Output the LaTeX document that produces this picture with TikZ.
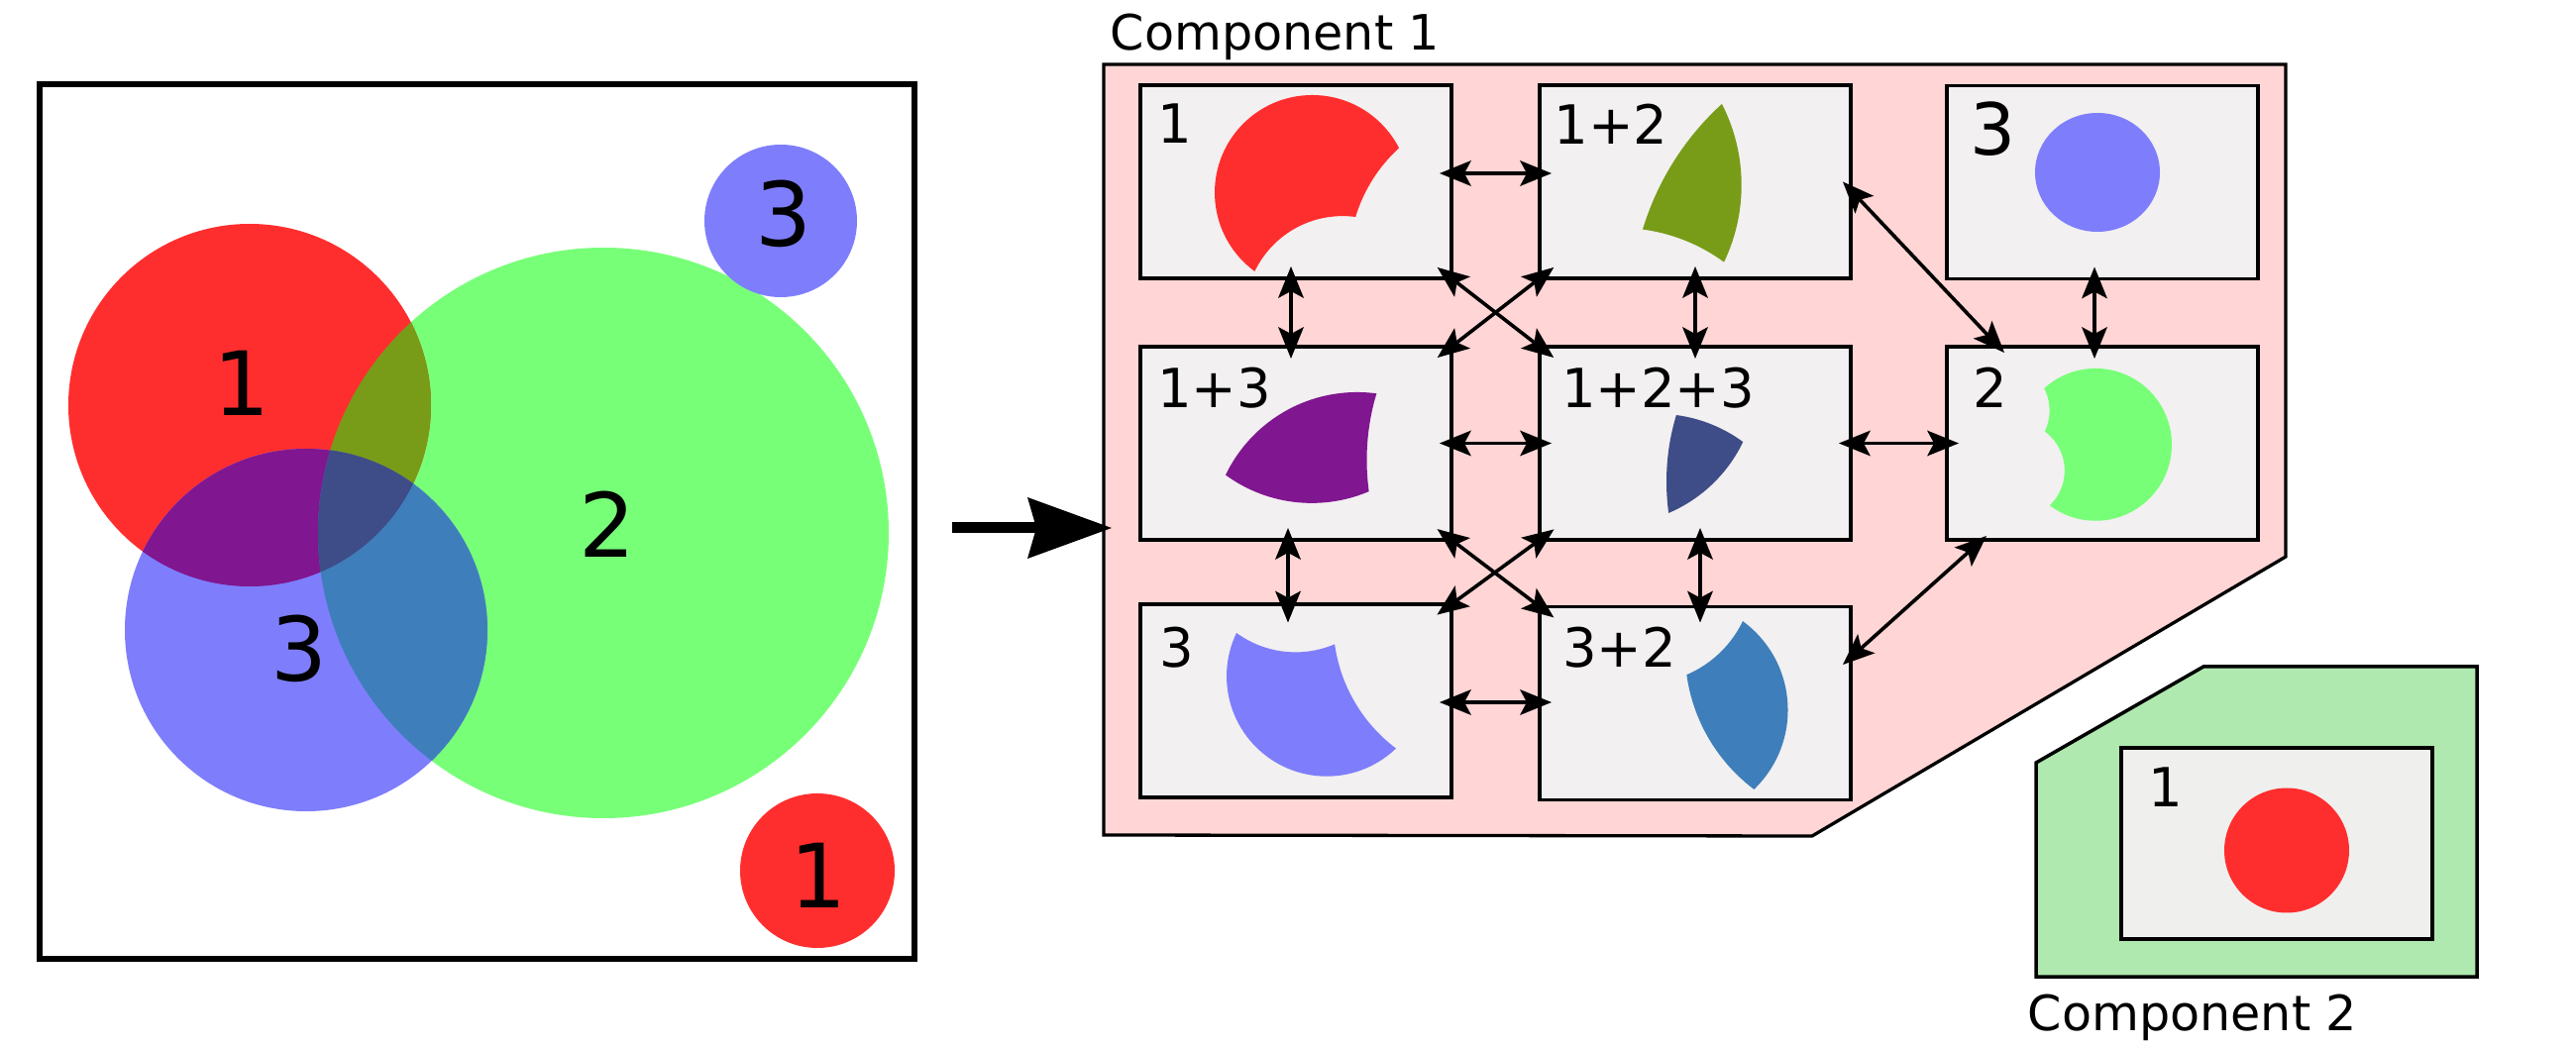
\documentclass[tikz,border=0pt]{standalone}
\usepackage{fontspec}
\setmainfont{DejaVu Sans}
\usetikzlibrary{positioning,arrows.meta}

\definecolor{setred}{RGB}{255,46,46}
\definecolor{setgreen}{RGB}{120,255,120}
\definecolor{setblue}{RGB}{126,126,252}
\definecolor{setolive}{RGB}{120,156,24}
\definecolor{setpurple}{RGB}{128,22,144}
\definecolor{setnavy}{RGB}{62,76,135}
\definecolor{setsteel}{RGB}{62,127,187}
\definecolor{boxgray}{RGB}{242,240,240}
\definecolor{boxgrayb}{RGB}{239,240,238}
\definecolor{comppink}{RGB}{255,213,213}
\definecolor{compgreen}{RGB}{175,233,175}

\newcommand{\cirA}{(252,409) circle [radius=183]}
\newcommand{\cirB}{(609,538) circle [radius=288]}
\newcommand{\cirC}{(309,636) circle [radius=183]}
\newcommand{\wholeplane}{(-3000,-3000) rectangle (6000,6000)}
\newcommand{\cutaway}[1]{\clip \wholeplane #1;}

\tikzset{
  setbox/.style={draw,line width=0.38mm,fill=boxgray,minimum width=31.4mm,minimum height=19.5mm,inner sep=0pt,outer sep=0pt},
  setlbl/.style={inner sep=0pt,outer sep=0pt,font=\fontsize{15.5}{18}\selectfont},
  vennlbl/.style={inner sep=0pt,font=\fontsize{25.5}{30}\selectfont},
  complbl/.style={inner sep=0pt,anchor=base west,font=\fontsize{14}{17}\selectfont},
  piece/.style={even odd rule},
  link/.style={line width=0.36mm,{Stealth[length=3.2mm,width=2.6mm,inset=0.7mm,line width=0pt]}-{Stealth[length=3.2mm,width=2.6mm,inset=0.7mm,line width=0pt]},shorten <=-1.2mm,shorten >=-1.2mm},
}

\begin{document}
\begin{tikzpicture}[x=0.1mm,y=-0.1mm]
\useasboundingbox (0,0) rectangle (2600,1059);
% the three sets
\node[draw,line width=0.6mm,minimum width=88.3mm,minimum height=88.3mm,inner sep=0pt,outer sep=0pt] (venn) at (481,527) {};
\fill[setgreen] \cirB; \fill[setred] \cirA; \fill[setblue] \cirC;
\begin{scope} \clip \cirA; \fill[setolive] \cirB; \fill[setpurple] \cirC; \end{scope}
\begin{scope} \clip \cirB; \fill[setsteel] \cirC; \clip \cirA; \fill[setnavy] \cirC; \end{scope}
\fill[setblue] (788,223) circle [radius=77];
\fill[setred] (825,879) circle [radius=78];
\node[vennlbl] (v1) at (244,387) {1};
\node[vennlbl] (v2) at (613,529) {2};
\node[vennlbl] (v3) at (302,655) {3};
\node[vennlbl] (v3s) at (791,216) {3};
\node[vennlbl] (v1s) at (826,884) {1};

% component 1
\filldraw[fill=comppink,line width=0.33mm] (1114,65) -- (2307,65) -- (2307,562) -- (1829,844) -- (1114,843) -- cycle;
\node[complbl] (comp1) at (1120,51) {Component 1};
\coordinate (arrS) at (961,533); \coordinate (arrE) at (1122,533);
\draw[line width=1.1mm,-{Stealth[length=8.5mm,width=6.2mm,inset=0.9mm,line width=0pt]}] (arrS) -- (arrE);

\node[setbox] (n1) at (1308,183.5) {};
\node[setbox] (n12) at (1711,183.5) {};
\node[setbox] (n3b) at (2122,184) {};
\node[setbox] (n13) at (1308,447.5) {};
\node[setbox] (n123) at (1711,447.5) {};
\node[setbox] (n2) at (2122,447.5) {};
\node[setbox] (n3) at (1308,707.5) {};
\node[setbox] (n32) at (1711,710) {};

% pieces of the sets
\begin{scope}[piece,shift={(1188.9,-25.6)},scale=0.538] \clip \cirA; \cutaway{\cirB} \cutaway{\cirC} \fill[setred] \wholeplane; \end{scope}
\begin{scope}[piece,shift={(1331.4,-213.9)},scale=0.98] \clip \cirA; \clip \cirB; \cutaway{\cirC} \fill[setolive] \wholeplane; \end{scope}
\begin{scope}[piece,shift={(1121.1,31.3)},scale=0.805] \clip \cirA; \clip \cirC; \cutaway{\cirB} \fill[setpurple] \wholeplane; \end{scope}
\begin{scope}[piece,shift={(1423.6,53.1)},scale=0.805] \clip \cirA; \clip \cirB; \clip \cirC; \fill[setnavy] \wholeplane; \end{scope}
\begin{scope}[piece,shift={(1168.5,331.6)},scale=0.552] \clip \cirC; \cutaway{\cirA} \cutaway{\cirB} \fill[setblue] \wholeplane; \end{scope}
\begin{scope}[piece,shift={(1505.9,330.7)},scale=0.607] \clip \cirB; \clip \cirC; \cutaway{\cirA} \fill[setsteel] \wholeplane; \end{scope}
\begin{scope}[piece,shift={(1952.5,305.2)},scale=0.267] \clip \cirB; \cutaway{\cirA} \cutaway{\cirC} \fill[setgreen] \wholeplane; \end{scope}
\fill[setblue] (2117,174) circle [x radius=63,y radius=60];

\node[setlbl,below right=1.9mm and 1.7mm of n1.north west] (t1) {1};
\node[setlbl,below right=1.9mm and 1.45mm of n12.north west] (t12) {1+2};
\node[setlbl,font=\fontsize{20.6}{24}\selectfont,below right=1.6mm and 2.3mm of n3b.north west] (t3b) {3};
\node[setlbl,below right=2.1mm and 1.7mm of n13.north west] (t13) {1+3};
\node[setlbl,below right=2.1mm and 2.2mm of n123.north west] (t123) {1+2+3};
\node[setlbl,below right=2.1mm and 2.6mm of n2.north west] (t2) {2};
\node[setlbl,below right=2.35mm and 1.9mm of n3.north west] (t3) {3};
\node[setlbl,below right=2.1mm and 2.3mm of n32.north west] (t32) {3+2};

% moves between the pieces
\draw[link] ([yshift=0.85mm]n1.east) -- ([yshift=0.85mm]n12.west);
\draw[link] ([xshift=-0.5mm]n1.south) -- ([xshift=-0.5mm]n13.north);
\draw[link,shorten <=-1.8mm,shorten >=-1.8mm] (n1.south east) -- (n123.north west);
\draw[link,shorten <=-1.8mm,shorten >=-1.8mm] (n12.south west) -- (n13.north east);
\draw[link] (n12.south) -- (n123.north);
\draw[link,shorten <=0mm,shorten >=0mm] ([xshift=-0.8mm]n12.east) -- ([xshift=5.8mm,yshift=-0.6mm]n2.north west);
\draw[link] ([xshift=-0.8mm]n3b.south) -- ([xshift=-0.8mm]n2.north);
\draw[link] (n13.east) -- (n123.west);
\draw[link] (n123.east) -- (n2.west);
\draw[link,shorten >=-1.85mm] ([xshift=-0.8mm]n13.south) -- ([xshift=-0.8mm]n3.north);
\draw[link,shorten <=-1.8mm,shorten >=-1.8mm] (n13.south east) -- (n32.north west);
\draw[link,shorten <=-1.8mm,shorten >=-1.8mm] (n123.south west) -- (n3.north east);
\draw[link,shorten >=-1.6mm] ([xshift=0.5mm]n123.south) -- ([xshift=0.5mm]n32.north);
\draw[link] ([yshift=-0.15mm]n3.east) -- ([yshift=0.1mm]n32.west);
\draw[link,shorten <=0mm,shorten >=0mm] ([xshift=4mm,yshift=0.4mm]n2.south west) -- ([xshift=-0.8mm,yshift=3.9mm]n32.east);

% component 2
\filldraw[fill=compgreen,line width=0.35mm] (2224,673) -- (2500,673) -- (2500,986) -- (2055,986) -- (2055,770) -- cycle;
\node[setbox,fill=boxgrayb,minimum height=19.3mm] (n1b) at (2298,851.5) {};
\fill[setred] (2308,858.5) circle [radius=63];
\node[setlbl,below right=2.0mm and 2.7mm of n1b.north west] (t1b) {1};
\node[complbl] (comp2) at (2046,1040) {Component 2};
\end{tikzpicture}
\end{document}
